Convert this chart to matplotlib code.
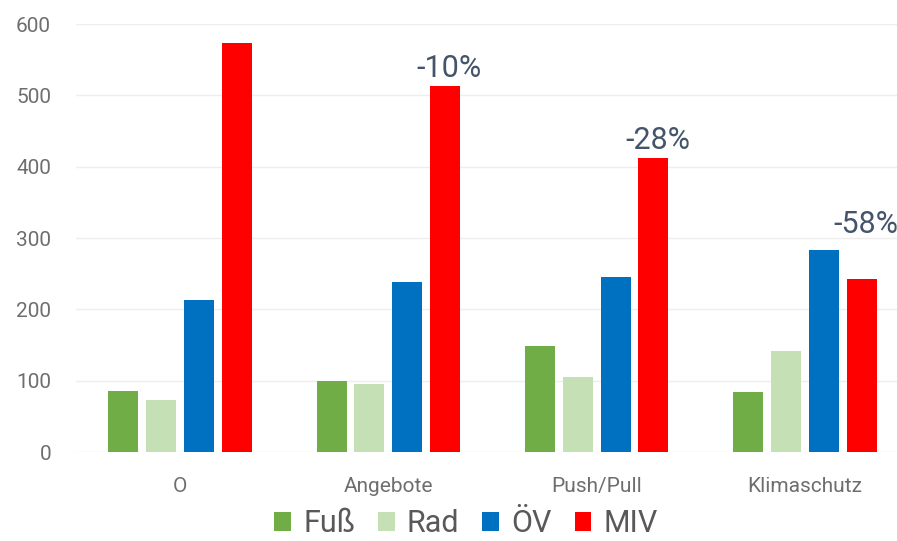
import matplotlib
matplotlib.use("Agg")
import matplotlib.pyplot as plt
import numpy as np

categories = ["O", "Angebote", "Push/Pull", "Klimaschutz"]
series_names = ["Fuß", "Rad", "ÖV", "MIV"]
fuss = [85, 100, 149, 84]
rad = [73, 95, 105, 142]
oev = [213, 238, 245, 283]
miv = [573, 513, 412, 243]
pct_labels = ["", "-10%", "-28%", "-58%"]
colors = ["#70AD47", "#C5E0B4", "#0070C0", "#FF0000"]

plt.rcParams['font.family'] = ['Roboto', 'DejaVu Sans']

fig = plt.figure(figsize=(8.97, 5.41), dpi=100)
ax = fig.add_axes([76/897, (541-452)/541, 833/897, 428/541])

x = np.arange(len(categories))
pitch = 0.182
width = 0.144
data = [fuss, rad, oev, miv]
for i, (vals, name, c) in enumerate(zip(data, series_names, colors)):
    ax.bar(x + (i - 1.5) * pitch, vals, width, color=c, label=name, zorder=3)

for xi, vo, vm, lab in zip(x, oev, miv, pct_labels):
    if lab:
        top = max(vo, vm)
        extra = 2 if vm >= vo else 8
        ax.annotate(lab, (xi + 1.5 * pitch, top), xytext=(3, extra), textcoords='offset points',
                    ha='center', va='bottom', fontsize=22, color='#44546A')

ax.set_xlim(-0.5, 3.5)
ax.set_ylim(0, 600)
ax.set_yticks([0, 100, 200, 300, 400, 500, 600])
ax.set_xticks(x)
ax.set_xticklabels(categories)
ax.tick_params(axis='both', length=0, labelsize=15, labelcolor='#6E6E6E')
ax.tick_params(axis='y', pad=18)
ax.tick_params(axis='x', pad=18)
ax.grid(axis='y', color='#EEEEEE', linewidth=1, zorder=0)
for s in ax.spines.values():
    s.set_visible(False)

leg = fig.legend(loc='center', bbox_to_anchor=(466/897, 1 - 524/541), ncol=4, frameon=False,
                 handlelength=0.55, handleheight=0.55, handletextpad=0.4,
                 columnspacing=0.75, labelcolor='#595959',
                 prop={'size': 22})

fig.savefig("out.png", dpi=100)
